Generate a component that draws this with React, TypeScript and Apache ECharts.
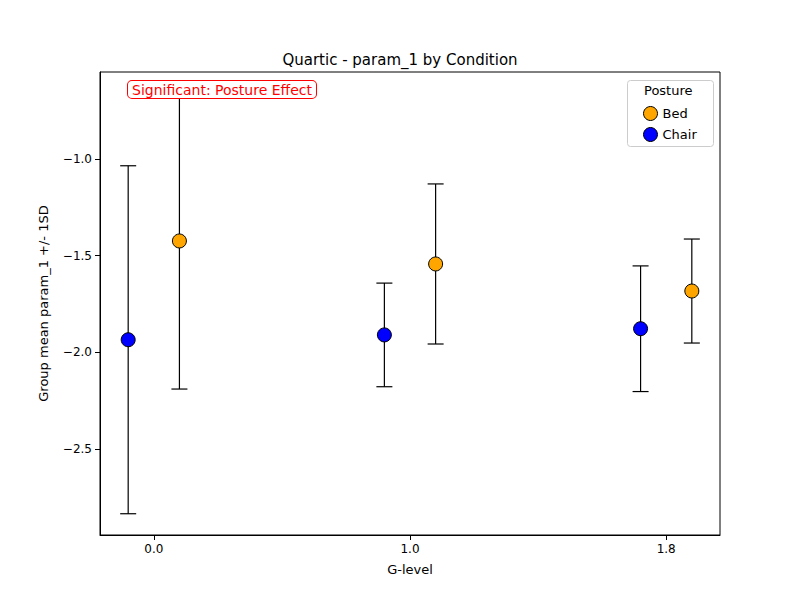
import React, { useEffect, useRef } from 'react'
import * as echarts from 'echarts'

const gLevels = ['0.0', '1.0', '1.8']
const chairMean = [-1.935, -1.91, -1.878]
const chairSd = [0.9, 0.268, 0.325]
const bedMean = [-1.424, -1.543, -1.683]
const bedSd = [0.766, 0.414, 0.269]
const yTicks = [-2.5, -2.0, -1.5, -1.0]

const OFFSET = 0.1
const FONT = 'DejaVu Sans'

const errorData = (means: number[], sds: number[], off: number) =>
  means.map((m, i) => [i + off, m - sds[i], m + sds[i]])

const renderError = (params: any, api: any) => {
  const x = api.value(0)
  const lo = api.coord([x, api.value(1)])
  const hi = api.coord([x, api.value(2)])
  const w = 8
  const style = { stroke: '#000', lineWidth: 1.2 }
  return {
    type: 'group',
    children: [
      { type: 'line', shape: { x1: lo[0], y1: lo[1], x2: hi[0], y2: hi[1] }, style },
      { type: 'line', shape: { x1: lo[0] - w, y1: lo[1], x2: lo[0] + w, y2: lo[1] }, style },
      { type: 'line', shape: { x1: hi[0] - w, y1: hi[1], x2: hi[0] + w, y2: hi[1] }, style },
    ],
  }
}

export default function App() {
  const ref = useRef<HTMLDivElement>(null)

  useEffect(() => {
    if (!ref.current) return
    const chart = echarts.init(ref.current, null, { renderer: 'svg' })
    const option: any = {
      animation: false,
      textStyle: { fontFamily: FONT },
      title: {
        text: 'Quartic - param_1 by Condition',
        left: 'center',
        top: 47,
        textStyle: { fontFamily: FONT, fontSize: 15, fontWeight: 'normal', color: '#000' },
      },
      grid: { left: 100, right: 80, top: 72, bottom: 65, show: true, borderColor: '#000', borderWidth: 1 },
      xAxis: {
        type: 'value',
        min: -0.21,
        max: 2.21,
        name: 'G-level',
        nameLocation: 'middle',
        nameGap: 28,
        nameTextStyle: { fontFamily: FONT, fontSize: 13, color: '#000' },
        axisLine: { show: true, onZero: false, lineStyle: { color: '#000' } },
        axisTick: { show: true, customValues: [0, 1, 2], length: 5, lineStyle: { color: '#000' } },
        axisLabel: {
          customValues: [0, 1, 2],
          formatter: (v: number) => gLevels[Math.round(v)] ?? '',
          color: '#000',
          fontSize: 12,
          margin: 8,
        },
        splitLine: { show: false },
      },
      yAxis: {
        type: 'value',
        min: -2.945,
        max: -0.55,
        name: 'Group mean param_1 +/- 1SD',
        nameLocation: 'middle',
        nameGap: 50,
        nameTextStyle: { fontFamily: FONT, fontSize: 13, color: '#000' },
        axisLine: { show: true, onZero: false, lineStyle: { color: '#000' } },
        axisTick: { show: true, customValues: yTicks, length: 5, lineStyle: { color: '#000' } },
        axisLabel: {
          customValues: yTicks,
          formatter: (v: number) => v.toFixed(1).replace('-', '\u2212'),
          color: '#000',
          fontSize: 12,
        },
        splitLine: { show: false },
      },
      legend: {
        orient: 'vertical',
        left: 638,
        top: 101,
        itemGap: 6,
        itemWidth: 14,
        itemHeight: 14,
        data: ['Bed', 'Chair'],
        itemStyle: { borderWidth: 1, borderColor: '#000' },
        textStyle: { fontFamily: FONT, fontSize: 13, color: '#000' },
      },
      graphic: [
        {
          type: 'rect',
          left: 627,
          top: 80,
          shape: { width: 86, height: 66, r: 3 },
          style: { fill: 'rgba(255,255,255,0.8)', stroke: '#ccc', lineWidth: 1 },
          z: 0,
        },
        {
          type: 'text',
          left: 644,
          top: 84,
          style: { text: 'Posture', fontFamily: FONT, fontSize: 13, fill: '#000' },
        },
        {
          type: 'text',
          left: 127,
          top: 80,
          style: {
            text: 'Significant: Posture Effect',
            fontFamily: FONT,
            fontSize: 14,
            fill: '#ff0000',
            backgroundColor: '#fff',
            borderColor: '#ff0000',
            borderWidth: 1,
            borderRadius: 4,
            padding: [2, 4, 1, 4],
          },
          z: 100,
        },
      ],
      series: [
        {
          type: 'custom',
          clip: true,
          renderItem: renderError,
          data: errorData(chairMean, chairSd, -OFFSET),
          z: 1,
          silent: true,
        },
        {
          type: 'custom',
          clip: true,
          renderItem: renderError,
          data: errorData(bedMean, bedSd, OFFSET),
          z: 1,
          silent: true,
        },
        {
          name: 'Bed',
          type: 'scatter',
          symbolSize: 14,
          itemStyle: { color: '#FFA500', borderColor: '#000', borderWidth: 1, opacity: 1 },
          data: bedMean.map((m, i) => [i + OFFSET, m]),
          z: 3,
        },
        {
          name: 'Chair',
          type: 'scatter',
          symbolSize: 14,
          itemStyle: { color: '#0000FF', borderColor: '#000', borderWidth: 1, opacity: 1 },
          data: chairMean.map((m, i) => [i - OFFSET, m]),
          z: 3,
        },
      ],
    }
    chart.setOption(option)
    return () => chart.dispose()
  }, [])

  return <div ref={ref} style={{ width: 800, height: 600, margin: -8 }} />
}
